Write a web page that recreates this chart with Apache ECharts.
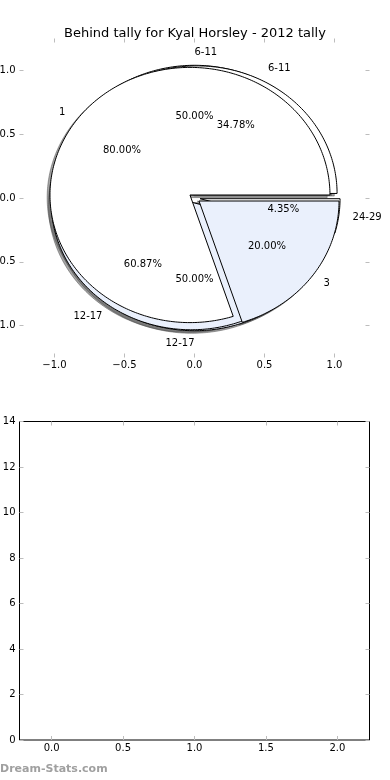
<!DOCTYPE html>
<html><head><meta charset="utf-8">
<script src="https://cdn.jsdelivr.net/npm/echarts@6/dist/echarts.min.js"></script>
<style>html,body{margin:0;padding:0;background:#fff}#c{width:390px;height:780px}</style>
</head><body><div id="c"></div>
<script>
const chartTitle = 'Behind tally for Kyal Horsley - 2012 tally';
const pieALabels = ['6-11', '12-17'];
const pieAValues = [1, 1];
const pieBLabels = ['6-11', '12-17', '24-29'];
const pieBValues = [8, 14, 1];
const pieCLabels = ['1', '3'];
const pieCValues = [4, 1];
const pieTicks = [-1, -0.5, 0, 0.5, 1];
const lowerXTicks = [0, 0.5, 1, 1.5, 2];
const lowerYTicks = [0, 2, 4, 6, 8, 10, 12, 14];
const watermark = 'Dream-Stats.com';

const FONT = 'DejaVu Sans';
const sliceColors = ['#ffffff', '#eaf0fc'];
const EXPLODE = 0.04, LABEL_R = 1.1, PCT_R = 0.6, SH = -0.02;
const pies = [
  {labels: pieALabels, values: pieAValues},
  {labels: pieBLabels, values: pieBValues},
  {labels: pieCLabels, values: pieCValues}
];
const wedges = [];
pies.forEach((p, pi) => {
  const total = p.values.reduce((a, b) => a + b, 0);
  let t1 = 0;
  p.values.forEach((v, si) => {
    const t2 = t1 + 360 * v / total;
    const tm = Math.PI * (t1 + t2) / 360;
    wedges.push({pie: pi, label: p.labels[si], frac: v / total, t1, t2, tm,
      cx: EXPLODE * Math.cos(tm), cy: EXPLODE * Math.sin(tm),
      color: sliceColors[si % sliceColors.length]});
    t1 = t2;
  });
});
function wedgePoints(w, dx, dy, api) {
  const pts = [api.coord([w.cx + dx, w.cy + dy])];
  const n = Math.max(4, Math.ceil(w.t2 - w.t1));
  for (let k = 0; k <= n; k++) {
    const a = (w.t1 + (w.t2 - w.t1) * k / n) * Math.PI / 180;
    pts.push(api.coord([w.cx + dx + Math.cos(a), w.cy + dy + Math.sin(a)]));
  }
  return pts;
}
const fmtSigned = v => (v < 0 ? '\u2212' : '') + Math.abs(v).toFixed(1);
const tickStyle = {show: true, inside: true, length: 4, lineStyle: {color: '#bdbdbd', width: 1}};
const lblStyle = {color: '#000', fontSize: 10, fontFamily: FONT};
const noLine = {show: false, onZero: false};

const chart = echarts.init(document.getElementById('c'), null, {renderer: 'canvas'});
const wedgeData = wedges.map(w => [w.cx, w.cy]);
chart.setOption({
  animation: false,
  backgroundColor: '#fff',
  title: {text: chartTitle, left: 'center', top: 22,
    textStyle: {fontSize: 13, fontWeight: 'normal', fontFamily: FONT, color: '#000'}},
  grid: [
    {left: 19.5, right: 20.5, top: 38.5, bottom: 422.5, show: false, containLabel: false, outerBoundsMode: 'none'},
    {left: 19.5, right: 20.5, top: 421.5, bottom: 40, show: true, borderColor: '#000', borderWidth: 1,
      backgroundColor: 'transparent', containLabel: false, outerBoundsMode: 'none'}
  ],
  xAxis: [
    {gridIndex: 0, type: 'value', position: 'bottom', min: -1.25, max: 1.25,
      axisLine: noLine, splitLine: {show: false},
      axisTick: Object.assign({customValues: pieTicks}, tickStyle),
      axisLabel: Object.assign({customValues: pieTicks, margin: 3, formatter: fmtSigned}, lblStyle)},
    {gridIndex: 0, type: 'value', position: 'top', min: -1.25, max: 1.25,
      axisLine: noLine, splitLine: {show: false},
      axisTick: Object.assign({customValues: pieTicks}, tickStyle), axisLabel: {show: false}},
    {gridIndex: 1, type: 'value', position: 'bottom', min: -0.225, max: 2.225,
      axisLine: noLine, splitLine: {show: false},
      axisTick: Object.assign({customValues: lowerXTicks}, tickStyle),
      axisLabel: Object.assign({customValues: lowerXTicks, margin: 3, formatter: fmtSigned}, lblStyle)},
    {gridIndex: 1, type: 'value', position: 'top', min: -0.225, max: 2.225,
      axisLine: noLine, splitLine: {show: false},
      axisTick: Object.assign({customValues: lowerXTicks}, tickStyle), axisLabel: {show: false}}
  ],
  yAxis: [
    {gridIndex: 0, type: 'value', position: 'left', min: -1.25, max: 1.25,
      axisLine: noLine, splitLine: {show: false},
      axisTick: Object.assign({customValues: pieTicks}, tickStyle),
      axisLabel: Object.assign({customValues: pieTicks, margin: 4, formatter: fmtSigned}, lblStyle)},
    {gridIndex: 0, type: 'value', position: 'right', min: -1.25, max: 1.25,
      axisLine: noLine, splitLine: {show: false},
      axisTick: Object.assign({customValues: pieTicks}, tickStyle), axisLabel: {show: false}},
    {gridIndex: 1, type: 'value', position: 'left', min: 0, max: 14, interval: 2,
      axisLine: noLine, splitLine: {show: false},
      axisTick: Object.assign({customValues: lowerYTicks}, tickStyle),
      axisLabel: Object.assign({customValues: lowerYTicks, margin: 4, formatter: v => String(v)}, lblStyle)},
    {gridIndex: 1, type: 'value', position: 'right', min: 0, max: 14, interval: 2,
      axisLine: noLine, splitLine: {show: false},
      axisTick: Object.assign({customValues: lowerYTicks}, tickStyle), axisLabel: {show: false}}
  ],
  series: [
    {type: 'custom', name: 'shadows', coordinateSystem: 'cartesian2d', xAxisIndex: 0, yAxisIndex: 0,
      z: 1, silent: true, clip: false, data: wedgeData,
      renderItem: (params, api) => {
        const w = wedges[params.dataIndex];
        return {type: 'polygon', shape: {points: wedgePoints(w, SH, SH, api)},
          style: {fill: 'rgba(77,77,77,0.5)', stroke: 'rgba(77,77,77,0.5)', lineWidth: 1}};
      }},
    {type: 'custom', name: 'wedges', coordinateSystem: 'cartesian2d', xAxisIndex: 0, yAxisIndex: 0,
      z: 2, silent: true, clip: false, data: wedgeData,
      renderItem: (params, api) => {
        const w = wedges[params.dataIndex];
        return {type: 'polygon', shape: {points: wedgePoints(w, 0, 0, api)},
          style: {fill: w.color, stroke: '#000', lineWidth: 1}};
      }},
    {type: 'custom', name: 'labels', coordinateSystem: 'cartesian2d', xAxisIndex: 0, yAxisIndex: 0,
      z: 3, silent: true, clip: false, data: wedgeData,
      renderItem: (params, api) => {
        const w = wedges[params.dataIndex];
        const c = Math.cos(w.tm), s = Math.sin(w.tm);
        const xt = w.cx + LABEL_R * c, yt = w.cy + LABEL_R * s;
        const pl = api.coord([xt, yt]);
        const pp = api.coord([w.cx + PCT_R * c, w.cy + PCT_R * s]);
        return {type: 'group', children: [
          {type: 'text', x: pl[0], y: pl[1], style: {text: w.label, fill: '#000',
            font: '10px "' + FONT + '"', align: xt > 0 ? 'left' : 'right', verticalAlign: 'middle'}},
          {type: 'text', x: pp[0], y: pp[1], style: {text: (w.frac * 100).toFixed(2) + '%', fill: '#000',
            font: '10px "' + FONT + '"', align: 'center', verticalAlign: 'middle'}}
        ]};
      }}
  ],
  graphic: [
    {type: 'text', left: 0, top: 764, silent: true,
      style: {text: watermark, fill: '#a0a0a0', font: 'bold 11px "' + FONT + '"'}}
  ]
});
</script>
</body></html>
